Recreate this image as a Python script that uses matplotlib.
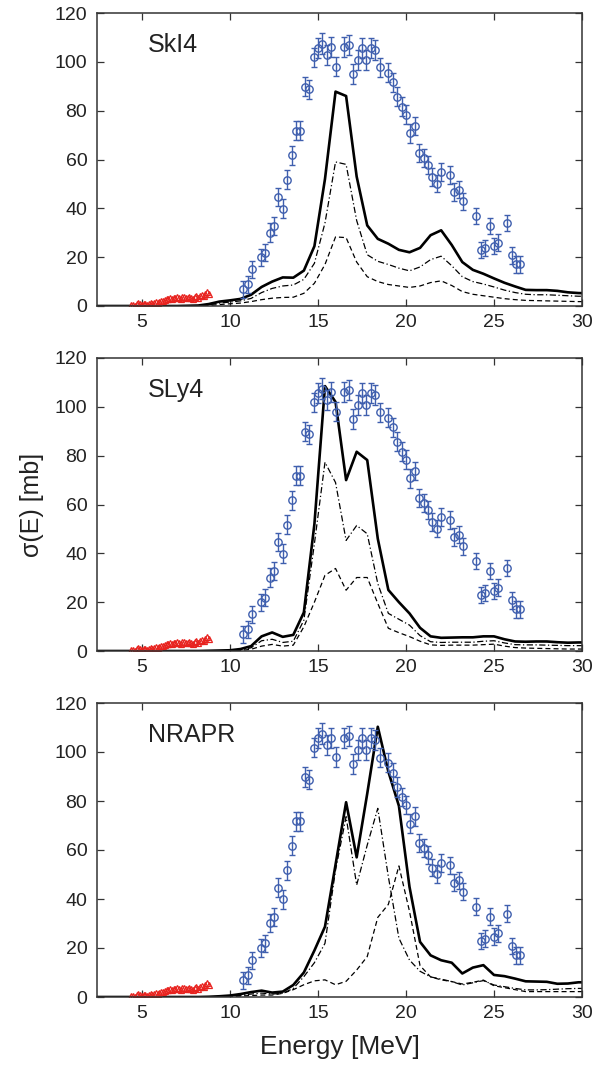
import matplotlib
matplotlib.use("Agg")
import matplotlib.pyplot as plt
import numpy as np

plt.rcParams['font.family'] = ['Liberation Sans', 'DejaVu Sans']

# experimental data (blue circles), same in every panel
E_exp = [10.75, 11.0, 11.25, 11.75, 12.0, 12.25, 12.5, 12.75, 13.0, 13.25,
         13.5, 13.75, 14.0, 14.25, 14.5, 14.75, 15.0, 15.25, 15.5, 15.75,
         16.0, 16.5, 16.75, 17.0, 17.25, 17.5, 17.75, 18.0, 18.25, 18.5,
         19.0, 19.25, 19.5, 19.75, 20.0, 20.25, 20.5, 20.75, 21.0, 21.25,
         21.5, 21.75, 22.0, 22.5, 22.75, 23.0, 23.25, 24.0, 24.25, 24.5,
         24.75, 25.0, 25.25, 25.75, 26.0, 26.25, 26.5]
sig_exp = [6.8, 8.9, 15.0, 19.9, 21.9, 30.1, 32.8, 44.6, 39.9, 51.7,
           61.8, 71.8, 71.8, 89.8, 88.7, 101.8, 105.6, 107.5, 102.9, 105.9,
           98.0, 105.9, 106.7, 95.0, 100.8, 105.6, 100.8, 105.6, 104.8, 97.7,
           95.6, 91.6, 85.7, 81.6, 78.4, 70.7, 73.7, 62.7, 60.7, 57.8,
           52.8, 50.1, 54.8, 53.7, 46.7, 47.6, 42.9, 36.9, 22.9, 23.8,
           32.8, 24.6, 26.0, 34.0, 20.8, 17.0, 17.0]
err_exp = [3.5, 3.5, 3.5, 3.6, 3.6, 3.7, 3.7, 3.8, 3.8, 3.8,
           3.9, 3.9, 3.9, 3.9, 3.9, 4.0, 4.1, 4.2, 4.1, 4.1,
           4.0, 4.1, 4.1, 4.0, 4.0, 4.1, 4.0, 4.1, 4.0, 4.0,
           3.9, 3.9, 3.9, 3.8, 3.8, 3.8, 3.8, 3.7, 3.7, 3.7,
           3.6, 3.6, 3.6, 3.6, 3.5, 3.5, 3.5, 3.4, 3.4, 3.4,
           3.4, 3.4, 3.4, 3.4, 3.4, 3.4, 3.4]

# low-energy data (red triangles)
E_low = [4.4, 4.5, 4.6, 4.7, 4.8, 4.9, 5.0, 5.1, 5.2, 5.3, 5.4, 5.5, 5.6,
         5.7, 5.8, 5.9, 6.0, 6.1, 6.2, 6.3, 6.4, 6.5, 6.6, 6.7, 6.8, 6.9,
         7.0, 7.1, 7.2, 7.3, 7.4, 7.5, 7.6, 7.7, 7.8, 7.9, 8.0, 8.1, 8.2,
         8.3, 8.4, 8.5, 8.6, 8.7, 8.8]
sig_low = [0.3, 0.6, 0.2, 0.8, 1.2, 0.9, 0.6, 1.0, 0.7, 0.5, 0.9, 1.1, 0.8,
           1.3, 1.5, 1.2, 1.8, 2.2, 1.9, 2.6, 3.0, 2.7, 3.2, 2.9, 3.4, 3.1,
           3.6, 3.3, 3.0, 3.5, 3.8, 3.4, 3.1, 3.6, 3.3, 2.9, 3.5, 3.9, 3.4,
           4.2, 4.6, 4.0, 4.9, 5.6, 4.8]

# calculated strength
E_th = [2.5, 5.0, 7.0, 8.2, 8.8, 9.4, 10.0, 10.6, 11.2, 11.8, 12.4, 13.0,
        13.6, 14.2, 14.8, 15.4, 16.0, 16.6, 17.2, 17.8, 18.4, 19.0, 19.6,
        20.2, 20.8, 21.4, 22.0, 22.6, 23.2, 23.8, 24.4, 25.0, 25.6, 26.2,
        26.8, 27.4, 28.0, 28.6, 29.2, 29.8, 30.4]

names = ["SkI4", "SLy4", "NRAPR"]

total = {
    "SkI4": [0, 0, 0, 0.2, 0.8, 1.8, 2.3, 2.9, 4.6, 7.8, 10.0, 11.7,
             11.6, 14.5, 24.5, 52.0, 87.8, 86.0, 53.0, 33.0, 27.5, 25.5, 23.0,
             22.0, 23.8, 29.0, 31.0, 25.0, 18.0, 14.8, 13.2, 11.3, 9.5, 8.0,
             6.6, 6.5, 6.5, 6.2, 5.6, 5.3, 5.2],
    "SLy4": [0, 0, 0, 0, 0.1, 0.2, 0.3, 0.8, 2.0, 6.0, 7.6, 5.8,
             6.6, 15.8, 52.0, 108.5, 102.0, 70.0, 81.6, 78.2, 46.0, 25.0, 20.0,
             15.4, 9.5, 6.0, 5.4, 5.5, 5.6, 5.6, 6.0, 6.0, 4.8, 3.9,
             3.8, 3.9, 3.9, 3.6, 3.4, 3.5, 3.5],
    "NRAPR": [0, 0, 0, 0, 0.1, 0.3, 0.6, 1.2, 2.0, 2.6, 1.8, 2.2,
              4.9, 10.0, 19.0, 28.7, 54.0, 79.5, 57.0, 83.0, 110.3, 92.0, 78.0,
              45.0, 22.5, 17.0, 15.0, 14.0, 9.6, 12.0, 13.0, 9.0, 8.5, 7.5,
              6.4, 6.3, 6.2, 5.4, 5.5, 6.0, 6.0],
}
dashdot = {
    "SkI4": [0, 0, 0, 0.1, 0.5, 1.2, 1.6, 2.1, 3.1, 5.5, 7.2, 8.2,
             8.6, 10.9, 17.5, 34.0, 59.0, 58.0, 35.0, 21.0, 18.3, 17.0, 15.5,
             14.4, 16.0, 19.0, 20.4, 16.5, 12.0, 10.0, 9.0, 7.8, 6.5, 5.5,
             4.8, 4.6, 4.6, 4.4, 4.2, 4.0, 4.0],
    "SLy4": [0, 0, 0, 0, 0.1, 0.1, 0.2, 0.5, 1.3, 4.2, 4.8, 3.5,
             4.0, 12.6, 44.0, 77.3, 69.0, 45.3, 51.4, 48.0, 27.6, 15.4, 13.0,
             10.6, 6.3, 3.8, 3.5, 3.6, 3.6, 3.6, 4.0, 4.2, 3.3, 2.6,
             2.5, 2.5, 2.4, 2.3, 2.2, 2.2, 2.2],
    "NRAPR": [0, 0, 0, 0, 0, 0.1, 0.3, 0.7, 1.2, 1.6, 1.2, 1.5,
              3.5, 8.3, 14.0, 21.9, 51.8, 73.6, 45.7, 62.0, 77.0, 49.1, 24.0,
              15.1, 10.5, 8.2, 7.3, 6.3, 4.9, 5.8, 6.7, 4.9, 4.2, 3.5,
              2.9, 2.9, 3.0, 3.2, 3.4, 3.5, 3.5],
}
dashed = {
    "SkI4": [0, 0, 0, 0, 0.2, 0.6, 0.9, 1.2, 1.8, 2.6, 3.2, 3.5,
             3.6, 5.2, 9.3, 17.0, 28.3, 28.0, 18.0, 12.0, 10.0, 8.8, 8.2,
             7.6, 8.2, 9.6, 10.3, 8.4, 5.9, 4.8, 4.2, 3.6, 3.0, 2.6,
             2.3, 2.2, 2.1, 2.0, 1.9, 1.8, 1.8],
    "SLy4": [0, 0, 0, 0, 0, 0.1, 0.1, 0.2, 0.7, 2.0, 2.7, 2.0,
             2.4, 9.9, 20.0, 31.0, 33.8, 24.9, 30.1, 30.1, 19.5, 9.3, 7.5,
             5.9, 4.0, 2.5, 2.3, 2.4, 2.4, 2.4, 2.6, 2.8, 2.0, 1.4,
             1.2, 1.1, 1.0, 0.9, 0.8, 0.8, 0.8],
    "NRAPR": [0, 0, 0, 0, 0, 0, 0.2, 0.4, 0.6, 0.8, 0.8, 1.5,
              3.0, 5.0, 6.6, 7.0, 5.0, 6.4, 11.0, 16.5, 32.5, 37.8, 53.5,
              35.0, 12.8, 8.2, 7.0, 6.3, 5.3, 6.0, 6.9, 4.6, 3.8, 3.0,
              2.2, 2.2, 2.2, 2.2, 2.2, 2.2, 2.2],
}

blue = '#3f5fae'
red = '#e8231f'
txt = '#222222'

fig = plt.figure(figsize=(5.99, 10.76), dpi=100)
W, H = 599, 1076
left, right = 97, 582
tops = [13, 358, 703]
bottoms = [306, 651, 997]

axes = []
for i, name in enumerate(names):
    ax = fig.add_axes([left / W, 1 - bottoms[i] / H,
                       (right - left) / W, (bottoms[i] - tops[i]) / H])
    axes.append(ax)

    ax.plot(E_th, dashed[name], color='black', lw=0.9, ls=(0, (4, 2.5)))
    ax.plot(E_th, dashdot[name], color='black', lw=0.9,
            ls=(0, (5, 2, 1, 2)))
    ax.plot(E_th, total[name], color='black', lw=1.9)

    ax.plot(E_low, sig_low, ls='none', marker='^', ms=4.5, mfc='none',
            mec=red, mew=0.9)
    ax.errorbar(E_exp, sig_exp, yerr=err_exp, fmt='o', ms=5.3, mfc='none',
                mec=blue, mew=1.0, ecolor=blue, elinewidth=1.0, capsize=2.5,
                capthick=1.0)

    ax.set_xlim(2.45, 30)
    ax.set_ylim(0, 120)
    ax.set_xticks([5, 10, 15, 20, 25, 30])
    ax.set_yticks([0, 20, 40, 60, 80, 100, 120])
    ax.tick_params(direction='in', top=True, right=True, length=5,
                   width=0.9, labelsize=14, labelcolor=txt, color='#333333')
    ax.tick_params(axis='y', pad=7)
    ax.tick_params(axis='x', pad=6)
    for s in ax.spines.values():
        s.set_linewidth(1.1)
        s.set_color('#333333')

    ax.text(0.105, 0.868, name, transform=ax.transAxes, fontsize=18,
            color=txt, ha='left', va='baseline')

axes[1].set_ylabel('σ(E) [mb]', fontsize=18, color=txt, labelpad=8)
axes[2].set_xlabel('Energy [MeV]', fontsize=19, color=txt, labelpad=9)

fig.savefig('out.png', dpi=100)
